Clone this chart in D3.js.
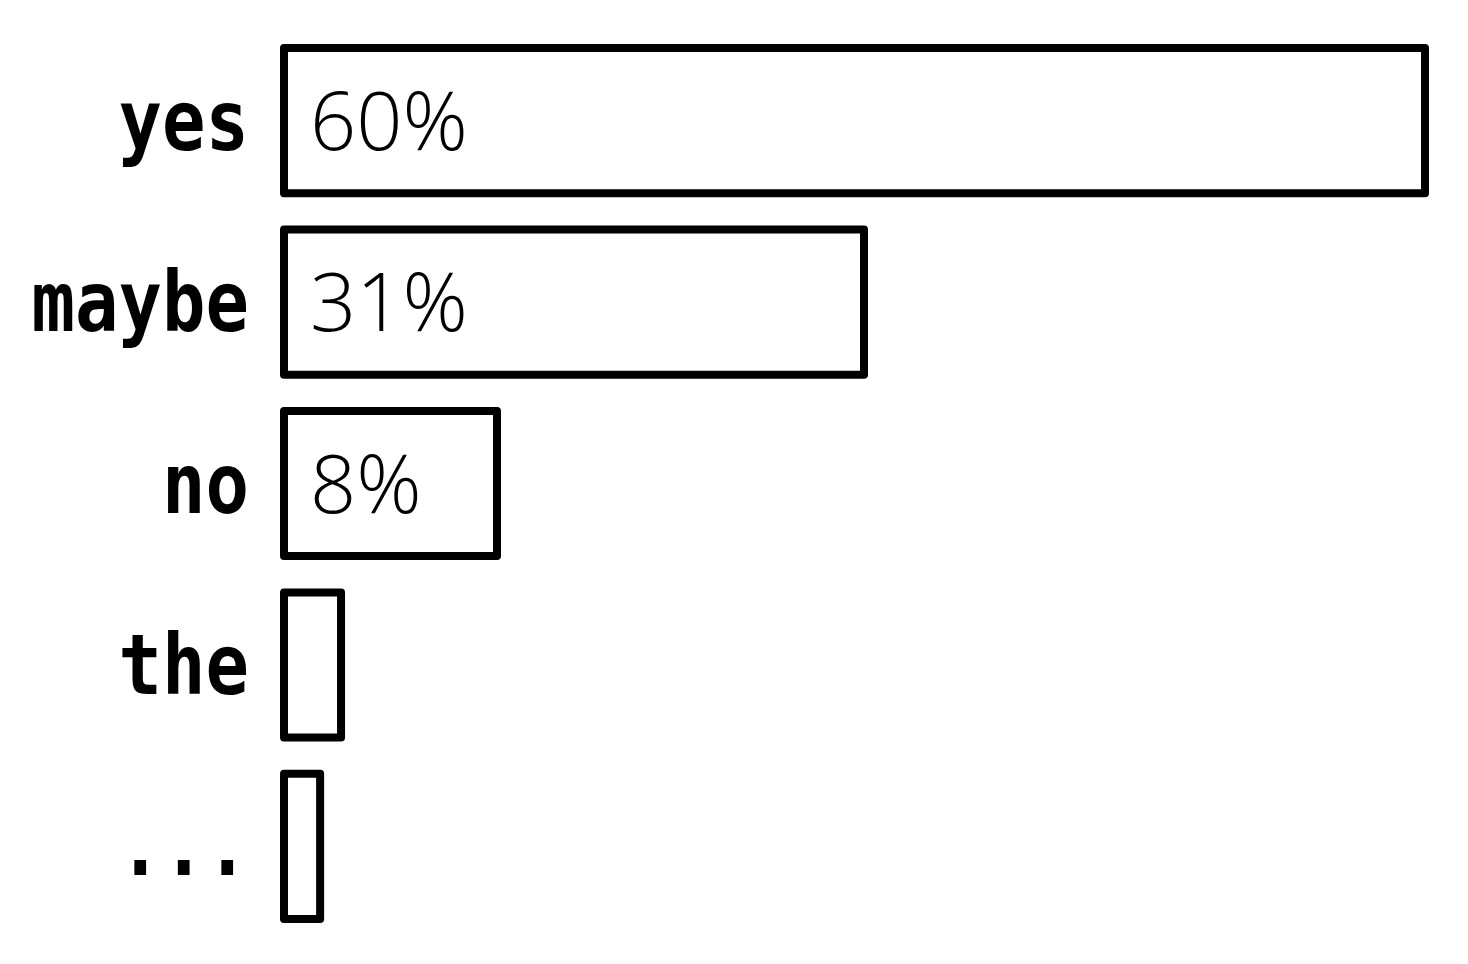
<!DOCTYPE html>
<html>
<head>
<meta charset="utf-8">
<script src="https://cdn.jsdelivr.net/npm/d3@7"></script>
<style>
  body { margin: 0; background: #fff; }
  .cat { font-family: "DejaVu Sans Mono", monospace; font-weight: bold; font-size: 84px; }
  .pct { font-family: "Open Sans", "Noto Sans", sans-serif; font-weight: 300; font-size: 81px; }
</style>
</head>
<body>
<script>
// chart data
var categories = ["yes", "maybe", "no", "the", "..."];
var values = [60, 30.5, 11.2, 3.0, 1.9];   // bar lengths
var valueLabels = ["60%", "31%", "8%", "", ""];

var svgWidth = 1468;
var svgHeight = 964;

var svg = d3.select("body")
  .append("svg")
  .attr("width", svgWidth)
  .attr("height", svgHeight);

// scales
var xScale = d3.scaleLinear()
  .domain([0, 60])
  .range([284, 1425]);

var yScale = d3.scaleBand()
  .domain(categories)
  .range([48, 919])
  .paddingInner(0.2)
  .paddingOuter(0);

var data = categories.map(function(c, i) {
  return { cat: c, value: values[i], label: valueLabels[i] };
});

// bars
svg.selectAll("rect")
  .data(data)
  .enter()
  .append("rect")
  .attr("x", xScale(0))
  .attr("y", function(d) { return yScale(d.cat); })
  .attr("width", function(d) { return xScale(d.value) - xScale(0); })
  .attr("height", yScale.bandwidth())
  .attr("fill", "#fff")
  .attr("stroke", "#000")
  .attr("stroke-width", 8)
  .attr("stroke-linejoin", "round");

// category labels (squeezed a little to match the narrow mono font)
svg.selectAll("text.cat")
  .data(data)
  .enter()
  .append("text")
  .attr("class", "cat")
  .attr("text-anchor", "end")
  .attr("transform", function(d) {
    var y = yScale(d.cat) + yScale.bandwidth() / 2 + 29;
    return "translate(249," + y + ") scale(0.86,1)";
  })
  .text(function(d) { return d.cat; });

// value labels inside bars
svg.selectAll("text.pct")
  .data(data)
  .enter()
  .append("text")
  .attr("class", "pct")
  .attr("x", xScale(0) + 26)
  .attr("y", function(d) { return yScale(d.cat) + yScale.bandwidth() / 2 + 29; })
  .text(function(d) { return d.label; });
</script>
</body>
</html>
